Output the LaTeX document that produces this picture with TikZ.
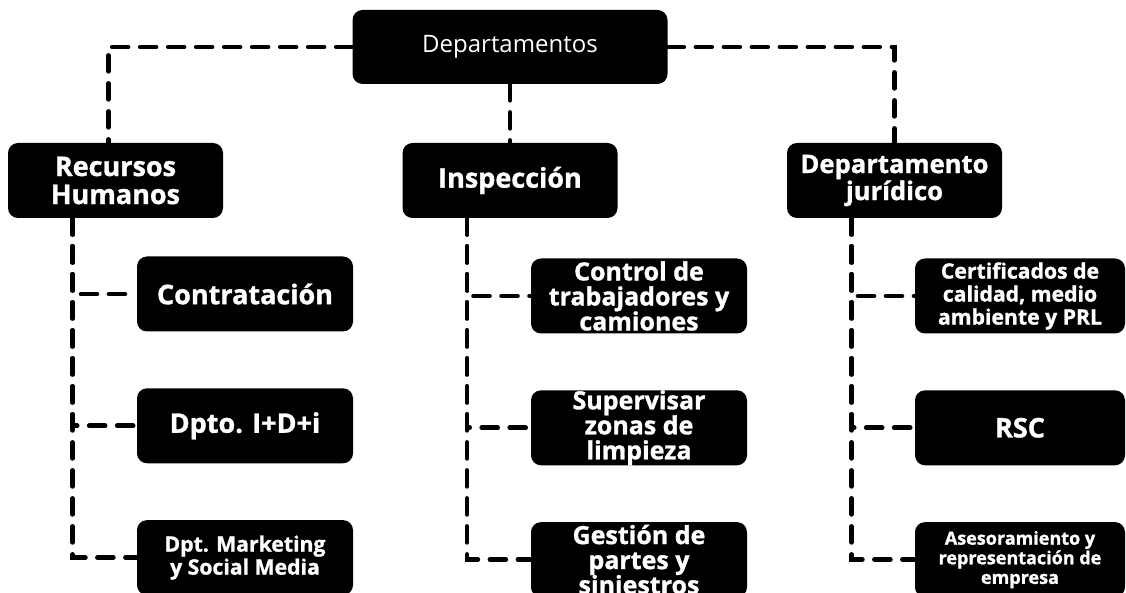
\documentclass[tikz,border=0pt]{standalone}
\usepackage{fontspec}
\setmainfont{Open Sans}[BoldFeatures={FakeBold=1.2}]
\usetikzlibrary{positioning}
\tikzset{
    box/.style ={rectangle, rounded corners=5pt, fill=black, text=white, align=center, inner sep=0pt},
    rootbox/.style ={box, minimum width=157.5pt, minimum height=37pt, font=\fontsize{12}{13}\selectfont},
    deptbox/.style ={box, minimum width=107.5pt, minimum height=37.5pt, font=\fontsize{13.5}{14}\selectfont\bfseries},
    leafbox/.style ={box, minimum width=108pt, minimum height=37.5pt, font=\fontsize{13.5}{14}\selectfont\bfseries},
    midfont/.style ={font=\fontsize{12.5}{12.5}\selectfont\bfseries},
    smallfont/.style ={font=\fontsize{10.6}{11.5}\selectfont\bfseries},
    link/.style={line width=2.3pt, dash pattern=on 8pt off 6pt, line cap=round}
}

\begin{document}
\begin{tikzpicture}[x=0.5pt,y=-0.5pt]
        \useasboundingbox (0,0) rectangle (1126,593);

        \node[rootbox] (dep) at (510,47) {Departamentos};

        \node[deptbox] (rh) at (115.5,180.5) {Recursos\\Humanos};
        \node[deptbox] (insp) at (510,180.5) {Inspección};
        \node[deptbox, font=\fontsize{12.8}{13.5}\selectfont\bfseries] (jur) at (894.5,180.5) {Departamento\\jurídico};

        \node[leafbox] (contr) at (245,294) {Contratación};
        \node[leafbox] (idi)[below=28pt of contr] {Dpto. I+D+i};
        \node[leafbox, smallfont] (mkt)[below=28pt of idi] {Dpt. Marketing\\y Social Media};

        \node[leafbox, midfont] (ctrl) at (639,296) {Control de\\trabajadores y\\camiones};
        \node[leafbox, midfont] (sup)[below=28pt of ctrl] {Supervisar\\zonas de\\limpieza};
        \node[leafbox, midfont] (gest)[below=28pt of sup] {Gestión de\\partes y\\siniestros};

        \node[leafbox, minimum width=105pt, smallfont] (cert) at (1020,296) {Certificados de\\calidad, medio\\ambiente y PRL};
        \node[leafbox, minimum width=105pt] (rsc)[below=28pt of cert] {RSC};
        \node[leafbox, minimum width=105pt, font=\fontsize{9}{9.8}\selectfont\bfseries] (ases)[below=28pt of rsc] {Asesoramiento y\\representación de\\empresa};

        \draw[link] (dep.west) -| ([xshift=-3.5pt]rh.north);
        \draw[link] (dep) -- (insp);
        \draw[link] (dep.east) -| (jur.north);

        \foreach \c in {contr,idi,mkt}
            \draw[link] ([xshift=32.5pt]rh.south west) |- (\c.west);
        \foreach \c in {ctrl,sup,gest}
            \draw[link] ([xshift=32.5pt]insp.south west) |- (\c.west);
        \foreach \c in {cert,rsc,ases}
            \draw[link] ([xshift=32.5pt]jur.south west) |- (\c.west);
      \end{tikzpicture}
\end{document}
